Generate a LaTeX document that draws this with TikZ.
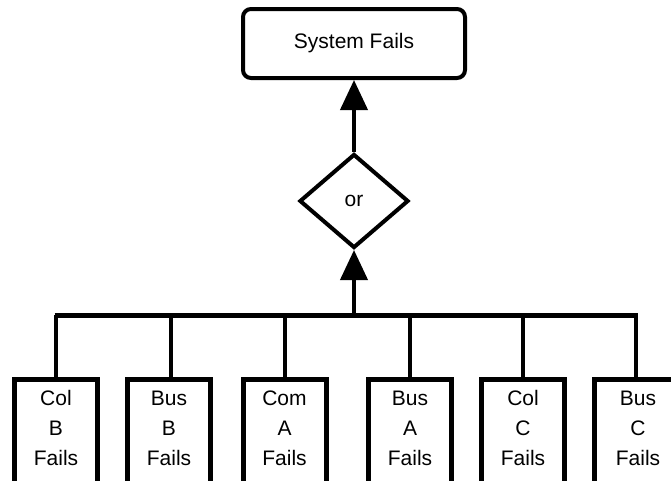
\documentclass[tikz,border=0pt]{standalone}
\usepackage{fontspec}
\setmainfont{Liberation Sans}
\usetikzlibrary{shapes.geometric,arrows.meta}

\begin{document}
\begin{tikzpicture}[x=1pt,y=-1pt,
    every node/.style={font=\fontsize{21}{30}\selectfont},
    topbox/.style={draw,line width=4pt,rounded corners=8pt,
      minimum width=222pt,minimum height=69pt,inner sep=0pt},
    gatebox/.style={draw,diamond,line width=4pt,minimum width=109pt,
      minimum height=94pt,inner sep=0pt,aspect=1.16},
    eventbox/.style={draw,line width=5pt,minimum width=83pt,
      minimum height=121pt,inner sep=0pt,align=center,text depth=24pt},
    link/.style={line width=4pt},
    buslink/.style={line width=5pt},
    uparrow/.style={line width=4pt,-{Triangle[width=27pt,length=30pt]}}]

  \useasboundingbox[fill=white] (0,0) rectangle (671,480);

  % top event and OR gate
  \node[topbox] (top) at (354,43.5) {System Fails};
  \node[gatebox] (gate) at (354,201) {or};

  % basic events (their lower edges run off the page)
  \node[eventbox] (b1) at (56,440)    {Col\\B\\Fails};
  \node[eventbox] (b2) at (169,440)   {Bus\\B\\Fails};
  \node[eventbox] (b3) at (284.5,440) {Com\\A\\Fails};
  \node[eventbox] (b4) at (410,440)   {Bus\\A\\Fails};
  \node[eventbox] (b5) at (523,440)   {Col\\C\\Fails};
  \node[eventbox,minimum width=88pt] (b6) at (638,440) {Bus\\C\\Fails};

  % horizontal bus
  \coordinate (bus) at (354,315);
  \coordinate (busL) at (56,315);
  \coordinate (busR) at (636,315);
  \draw[buslink] ([xshift=-1.5pt]busL) -- ([xshift=1.5pt]busR);

  % drops from the bus to each event
  \draw[link] (b1.north) -- (b1.north |- bus);
  \draw[link] ([xshift=2pt]b2.north) -- ([xshift=2pt]b2.north |- bus);
  \draw[link] (b3.north) -- (b3.north |- bus);
  \draw[link] (b4.north) -- (b4.north |- bus);
  \draw[link] (b5.north) -- (b5.north |- bus);
  \draw[link] (busR |- b6.north) -- (busR);

  % arrows up through the gate
  \draw[uparrow] (bus) -- (gate.south);
  \draw[uparrow] (gate.north) -- (top.south);
\end{tikzpicture}
\end{document}
